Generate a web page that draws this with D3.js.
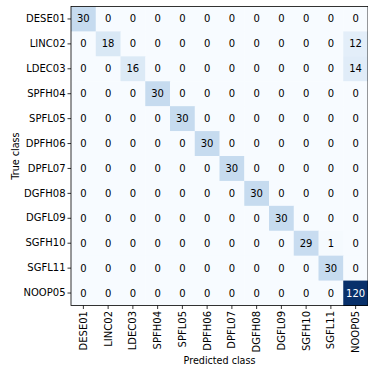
<!DOCTYPE html>
<html>
<head>
<meta charset="utf-8">
<script src="https://cdn.jsdelivr.net/npm/d3@7"></script>
<style>
  html, body { margin: 0; padding: 0; background: #fff; }
  svg { display: block; font-family: "DejaVu Sans", sans-serif; }
</style>
</head>
<body>
<svg id="chart" width="368" height="365"></svg>
<script>
// Class labels (rows = true class, columns = predicted class)
const classes = ["DESE01", "LINC02", "LDEC03", "SPFH04", "SPFL05", "DPFH06",
                 "DPFL07", "DGFH08", "DGFL09", "SGFH10", "SGFL11", "NOOP05"];

// Confusion-matrix counts, one row per true class
const counts = [
  [30, 0, 0, 0, 0, 0, 0, 0, 0, 0, 0, 0],
  [0, 18, 0, 0, 0, 0, 0, 0, 0, 0, 0, 12],
  [0, 0, 16, 0, 0, 0, 0, 0, 0, 0, 0, 14],
  [0, 0, 0, 30, 0, 0, 0, 0, 0, 0, 0, 0],
  [0, 0, 0, 0, 30, 0, 0, 0, 0, 0, 0, 0],
  [0, 0, 0, 0, 0, 30, 0, 0, 0, 0, 0, 0],
  [0, 0, 0, 0, 0, 0, 30, 0, 0, 0, 0, 0],
  [0, 0, 0, 0, 0, 0, 0, 30, 0, 0, 0, 0],
  [0, 0, 0, 0, 0, 0, 0, 0, 30, 0, 0, 0],
  [0, 0, 0, 0, 0, 0, 0, 0, 0, 29, 1, 0],
  [0, 0, 0, 0, 0, 0, 0, 0, 0, 0, 30, 0],
  [0, 0, 0, 0, 0, 0, 0, 0, 0, 0, 0, 120]
];

const axisTitles = { x: "Predicted class", y: "True class" };

// Blues colour ramp stops
const bluesStops = ["#f7fbff", "#deebf7", "#c6dbef", "#9ecae1", "#6baed6",
                    "#4292c6", "#2171b5", "#08519c", "#08306b"];

const margin = { left: 71, top: 6.5, right: 0, bottom: 59.5 };
const W = 368, H = 365;
const plotW = W - margin.left - margin.right;
const plotH = H - margin.top - margin.bottom;

const svg = d3.select("#chart");
const g = svg.append("g").attr("transform", `translate(${margin.left},${margin.top})`);

const x = d3.scaleBand().domain(classes).range([0, plotW]);
const y = d3.scaleBand().domain(classes).range([0, plotH]);

const vmax = d3.max(counts.flat());
const color = d3.scaleLinear()
  .domain(bluesStops.map((_, i) => vmax * i / (bluesStops.length - 1)))
  .range(bluesStops)
  .interpolate(d3.interpolateRgb);

const cells = [];
counts.forEach((row, i) => row.forEach((v, j) => cells.push({ r: classes[i], c: classes[j], v })));

g.selectAll("rect.cell")
  .data(cells)
  .join("rect")
  .attr("class", "cell")
  .attr("x", d => x(d.c))
  .attr("y", d => y(d.r))
  .attr("width", x.bandwidth() + 0.5)
  .attr("height", y.bandwidth() + 0.5)
  .attr("fill", d => color(d.v));

g.selectAll("text.val")
  .data(cells)
  .join("text")
  .attr("class", "val")
  .attr("x", d => x(d.c) + x.bandwidth() / 2)
  .attr("y", d => y(d.r) + y.bandwidth() / 2)
  .attr("text-anchor", "middle")
  .attr("dominant-baseline", "central")
  .attr("font-size", 10)
  .attr("fill", d => d.v > vmax / 2 ? "#ffffff" : "#000000")
  .text(d => d.v);

// Axes
const yAxis = g.append("g").call(d3.axisLeft(y).tickSize(3.5).tickPadding(2));
yAxis.selectAll("text").attr("font-size", 10).attr("fill", "#000").attr("font-family", "DejaVu Sans");
yAxis.selectAll("line").attr("stroke", "#000").attr("stroke-width", 0.8);
yAxis.select(".domain").remove();

const xAxis = g.append("g").attr("transform", `translate(0,${plotH})`)
  .call(d3.axisBottom(x).tickSize(3.5).tickPadding(2));
xAxis.selectAll("text")
  .attr("font-size", 10).attr("fill", "#000").attr("font-family", "DejaVu Sans")
  .attr("text-anchor", "end")
  .attr("dy", null)
  .attr("dominant-baseline", "central")
  .attr("transform", "rotate(-90)")
  .attr("x", -5.5).attr("y", 0);
xAxis.selectAll("line").attr("stroke", "#000").attr("stroke-width", 0.8);
xAxis.select(".domain").remove();

// Frame
g.append("rect")
  .attr("x", 0).attr("y", 0).attr("width", plotW).attr("height", plotH)
  .attr("fill", "none").attr("stroke", "#000").attr("stroke-width", 0.8);

// Axis titles
svg.append("text")
  .attr("x", margin.left + plotW / 2).attr("y", 364)
  .attr("text-anchor", "middle").attr("font-size", 9.6)
  .text(axisTitles.x);

svg.append("text")
  .attr("transform", `translate(15,${margin.top + plotH / 2}) rotate(-90)`)
  .attr("text-anchor", "middle").attr("dominant-baseline", "central").attr("font-size", 9.6)
  .text(axisTitles.y);
</script>
</body>
</html>
